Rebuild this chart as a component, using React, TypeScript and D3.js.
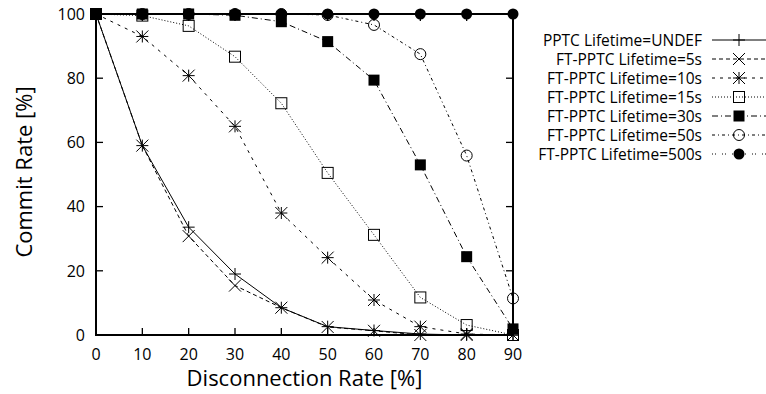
import React from "react";
import * as d3 from "d3";

const xValues = [0, 10, 20, 30, 40, 50, 60, 70, 80, 90];
const seriesNames = [
  "PPTC Lifetime=UNDEF",
  "FT-PPTC Lifetime=5s",
  "FT-PPTC Lifetime=10s",
  "FT-PPTC Lifetime=15s",
  "FT-PPTC Lifetime=30s",
  "FT-PPTC Lifetime=50s",
  "FT-PPTC Lifetime=500s",
];
const undefValues = [100, 59, 33.6, 19, 8.5, 2.6, 1.4, 0.3, 0, 0];
const ft5Values = [100, 59, 30.8, 15.4, 8.5, 2.5, 1.3, 0, 0, 0];
const ft10Values = [100, 93, 80.8, 65, 38, 24.1, 10.9, 2.6, 0.3, 0];
const ft15Values = [100, 99.5, 96.3, 86.7, 72.2, 50.5, 31.2, 11.7, 3.1, 0];
const ft30Values = [100, 100, 100, 99.6, 97.6, 91.4, 79.4, 53, 24.4, 1.9];
const ft50Values = [100, 100, 100, 100, 100, 99.7, 96.6, 87.5, 55.9, 11.4];
const ft500Values = [100, 100, 100, 100, 100, 100, 100, 100, 100, 100];
const xTicks = [0, 10, 20, 30, 40, 50, 60, 70, 80, 90];
const yTicks = [0, 20, 40, 60, 80, 100];

const allSeries = [undefValues, ft5Values, ft10Values, ft15Values, ft30Values, ft50Values, ft500Values];
const dashes = ["", "4,3", "3,5", "1,2", "6,3,1,3", "3,3,1,3", "1,2,1,6"];
const markerTypes = ["plus", "cross", "star", "square", "fsquare", "circle", "fcircle"];

function Marker({ type, x, y }: { type: string; x: number; y: number }) {
  const s = 6;
  const st = { stroke: "#000", strokeWidth: 1, fill: "none" } as any;
  switch (type) {
    case "plus":
      return <path d={`M${x - s},${y}H${x + s}M${x},${y - s}V${y + s}`} {...st} />;
    case "cross":
      return <path d={`M${x - s},${y - s}L${x + s},${y + s}M${x - s},${y + s}L${x + s},${y - s}`} {...st} />;
    case "star":
      return (
        <path
          d={`M${x - s},${y - s}L${x + s},${y + s}M${x - s},${y + s}L${x + s},${y - s}M${x - s},${y}H${x + s}M${x},${y - s}V${y + s}`}
          {...st}
        />
      );
    case "square":
      return <rect x={x - 5.5} y={y - 5.5} width={11} height={11} {...st} />;
    case "fsquare":
      return <rect x={x - 5.5} y={y - 5.5} width={11} height={11} fill="#000" />;
    case "circle":
      return <circle cx={x} cy={y} r={5.5} {...st} />;
    case "fcircle":
      return <circle cx={x} cy={y} r={5.5} fill="#000" />;
  }
  return null;
}

export default function App() {
  const W = 766, H = 394;
  const left = 96, right = 513, top = 14, bottom = 335;
  const x = d3.scaleLinear().domain([0, 90]).range([left, right]);
  const y = d3.scaleLinear().domain([0, 100]).range([bottom, top]);
  const line = d3.line<number>().x((_, i) => x(xValues[i])).y((d) => y(d));
  const font = "'Open Sans', sans-serif";
  const legX = 702;
  const legY0 = 40;
  const legStep = 19;

  return (
    <svg width={W} height={H} style={{ position: "absolute", left: 0, top: 0, background: "#fff" }}>
      <rect width={W} height={H} fill="#fff" />
      {yTicks.map((t) => (
        <g key={"y" + t}>
          <line x1={left} x2={left + 7} y1={y(t)} y2={y(t)} stroke="#000" strokeWidth={1.3} />
          <line x1={right} x2={right - 7} y1={y(t)} y2={y(t)} stroke="#000" strokeWidth={1.3} />
          <text x={left - 11} y={y(t)} dy="0.36em" textAnchor="end" fontFamily={font} fontSize={16}>
            {t}
          </text>
        </g>
      ))}
      {xTicks.map((t) => (
        <g key={"x" + t}>
          <line x1={x(t)} x2={x(t)} y1={bottom} y2={bottom - 7} stroke="#000" strokeWidth={1.3} />
          <line x1={x(t)} x2={x(t)} y1={top} y2={top + 7} stroke="#000" strokeWidth={1.3} />
          <text x={x(t)} y={bottom + 25} textAnchor="middle" fontFamily={font} fontSize={16}>
            {t}
          </text>
        </g>
      ))}
      {allSeries.map((vals, si) => (
        <g key={"s" + si}>
          <path d={line(vals) || ""} fill="none" stroke="#000" strokeWidth={1} strokeDasharray={dashes[si]} />
          {vals.map((v, i) => (
            <Marker key={i} type={markerTypes[si]} x={x(xValues[i])} y={y(v)} />
          ))}
        </g>
      ))}
      <rect x={left} y={top} width={right - left} height={bottom - top} fill="none" stroke="#000" strokeWidth={2} />
      <text x={(left + right) / 2} y={386} textAnchor="middle" fontFamily={font} fontSize={22}>
        Disconnection Rate [%]
      </text>
      <text transform={`translate(32,172) rotate(-90)`} textAnchor="middle" fontFamily={font} fontSize={22}>
        Commit Rate [%]
      </text>
      {seriesNames.map((n, i) => {
        const ly = legY0 + i * legStep;
        return (
          <g key={"l" + i}>
            <text x={legX} y={ly} dy="0.36em" textAnchor="end" fontFamily={font} fontSize={15.5}>
              {n}
            </text>
            <line x1={712} x2={766} y1={ly} y2={ly} stroke="#000" strokeWidth={1} strokeDasharray={dashes[i]} />
            <Marker type={markerTypes[i]} x={739} y={ly} />
          </g>
        );
      })}
    </svg>
  );
}
